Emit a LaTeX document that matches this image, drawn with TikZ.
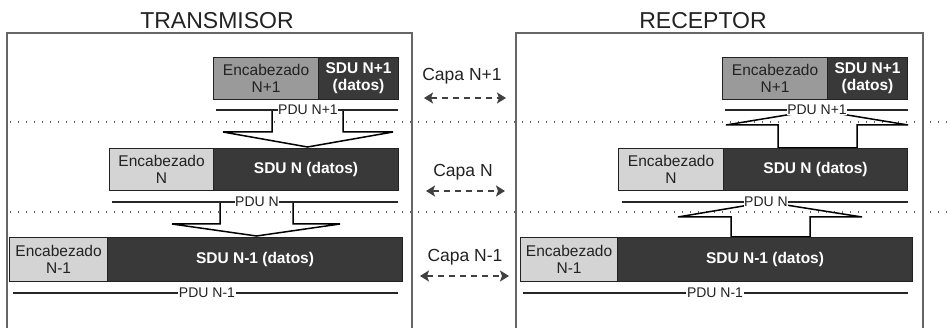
\documentclass[tikz,border=0pt]{standalone}
\usepackage{fontspec}
\setmainfont{Liberation Sans}
\usetikzlibrary{arrows.meta}
\definecolor{hdrdark}{HTML}{9A9A9A}
\definecolor{hdrlight}{HTML}{D4D4D4}
\definecolor{sdufill}{HTML}{393939}
\definecolor{framegray}{HTML}{666666}
\definecolor{inkgray}{HTML}{222222}
\tikzset{
  blk/.style={draw=inkgray, line width=1.1pt, anchor=north west, inner sep=0pt,
    align=center, font=\fontsize{15.5}{17}\selectfont},
  hdrA/.style={blk, fill=hdrdark, text=inkgray},
  hdrB/.style={blk, fill=hdrlight, text=inkgray},
  sdu/.style={blk, fill=sdufill, text=white, font=\fontsize{15.5}{17}\selectfont\bfseries},
  pduline/.style={draw=black!85, line width=1.1pt},
  pdulabel/.style={fill=white, inner sep=0.6pt, text=inkgray, font=\fontsize{14}{15}\selectfont},
  blockarrow/.style={draw=black, line width=1.5pt, line join=miter},
  layerline/.style={draw=framegray, line width=1.2pt, dash pattern=on 1.2pt off 6.8pt},
  frame/.style={draw=framegray, line width=1.5pt},
  title/.style={font=\fontsize{23}{25}\selectfont, text=inkgray},
  capa/.style={font=\fontsize{17.5}{19}\selectfont, text=inkgray},
  peer/.style={draw=black!75, line width=2pt, dash pattern=on 6pt off 5pt,
    {Stealth[length=9pt,width=11pt,inset=2pt]}-{Stealth[length=9pt,width=11pt,inset=2pt]}},
}
\begin{document}
\begin{tikzpicture}[x=1pt,y=-1pt]
\useasboundingbox (0,0) rectangle (947,328);

% station frames (open at the bottom)
\draw[frame] (7,332) -- (7,33) -- (412,33) -- (412,332);
\draw[frame] (516,332) -- (516,33) -- (923,33) -- (923,332);
\node[title] (tx) at (217,21) {TRANSMISOR};
\node[title] (rx) at (703,21) {RECEPTOR};

% layer boundaries
\draw[layerline] (10,122) -- (947,122);
\draw[layerline] (10,212) -- (947,212);

% encapsulation arrows (transmitter, downwards)
\draw[blockarrow] (272,110) -- (272,132) -- (223,132) -- (307.5,147) -- (393,132) -- (343,132) -- (343,110) -- cycle;
\draw[blockarrow] (220,202) -- (220,224) -- (172,224) -- (256.5,236) -- (340,224) -- (293,224) -- (293,202) -- cycle;
% decapsulation arrows (receiver, upwards)
\draw[blockarrow] (778,148) -- (778,125) -- (726,125) -- (817,110) -- (908,125) -- (857,125) -- (857,148) -- cycle;
\draw[blockarrow] (731,237) -- (731,217) -- (678,217) -- (767,202) -- (862,217) -- (810,217) -- (810,237) -- cycle;

% PDU extents
\coordinate (pl1a) at (216,110); \coordinate (pl1b) at (398,110);
\coordinate (pl2a) at (112,202); \coordinate (pl2b) at (398,202);
\coordinate (pl3a) at (13,293);  \coordinate (pl3b) at (398,293);
\coordinate (pr1a) at (725,110); \coordinate (pr1b) at (908,110);
\coordinate (pr2a) at (622,202); \coordinate (pr2b) at (908,202);
\coordinate (pr3a) at (523,293); \coordinate (pr3b) at (908,293);
\draw[pduline] (pl1a) -- (pl1b);
\draw[pduline] (pl2a) -- (pl2b);
\draw[pduline] (pl3a) -- (pl3b);
\draw[pduline] (pr1a) -- (pr1b);
\draw[pduline] (pr2a) -- (pr2b);
\draw[pduline] (pr3a) -- (pr3b);
\node[pdulabel] (pduL1) at (308,110) {PDU N+1};
\node[pdulabel] (pduL2) at (257,202) {PDU N};
\node[pdulabel] (pduL3) at (207,293) {PDU N-1};
\node[pdulabel] (pduR1) at (817,110) {PDU N+1};
\node[pdulabel] (pduR2) at (766,202) {PDU N};
\node[pdulabel] (pduR3) at (715,293) {PDU N-1};

% transmitter data units
\node[hdrA, minimum width=105, minimum height=42] (hL1) at (213,57) {Encabezado\\N+1};
\node[sdu,  minimum width=80,  minimum height=42] (sL1) at (318,57) {SDU N+1\\(datos)};
\node[hdrB, minimum width=104, minimum height=42] (hL2) at (109,148) {Encabezado\\N};
\node[sdu,  minimum width=185, minimum height=42] (sL2) at (213,148) {SDU N (datos)};
\node[hdrB, minimum width=98,  minimum height=44] (hL3) at (9,237) {Encabezado\\N-1};
\node[sdu,  minimum width=295, minimum height=44] (sL3) at (107,237) {SDU N-1 (datos)};

% receiver data units
\node[hdrA, minimum width=105, minimum height=42] (hR1) at (722,57) {Encabezado\\N+1};
\node[sdu,  minimum width=80,  minimum height=42] (sR1) at (827,57) {SDU N+1\\(datos)};
\node[hdrB, minimum width=105, minimum height=42] (hR2) at (618,148) {Encabezado\\N};
\node[sdu,  minimum width=184, minimum height=42] (sR2) at (723,148) {SDU N (datos)};
\node[hdrB, minimum width=97,  minimum height=44] (hR3) at (520,237) {Encabezado\\N-1};
\node[sdu,  minimum width=295, minimum height=44] (sR3) at (617,237) {SDU N-1 (datos)};

% peer-to-peer layer communication
\node[capa] (c1) at (462,76) {Capa N+1};
\node[capa] (c2) at (463,172) {Capa N};
\node[capa] (c3) at (465,257) {Capa N-1};
\coordinate (a1l) at (424,98);  \coordinate (a1r) at (506,98);
\coordinate (a2l) at (426,191); \coordinate (a2r) at (505,191);
\coordinate (a3l) at (420,276); \coordinate (a3r) at (509,276);
\draw[peer] (a1l) -- (a1r);
\draw[peer] (a2l) -- (a2r);
\draw[peer] (a3l) -- (a3r);
\end{tikzpicture}
\end{document}
